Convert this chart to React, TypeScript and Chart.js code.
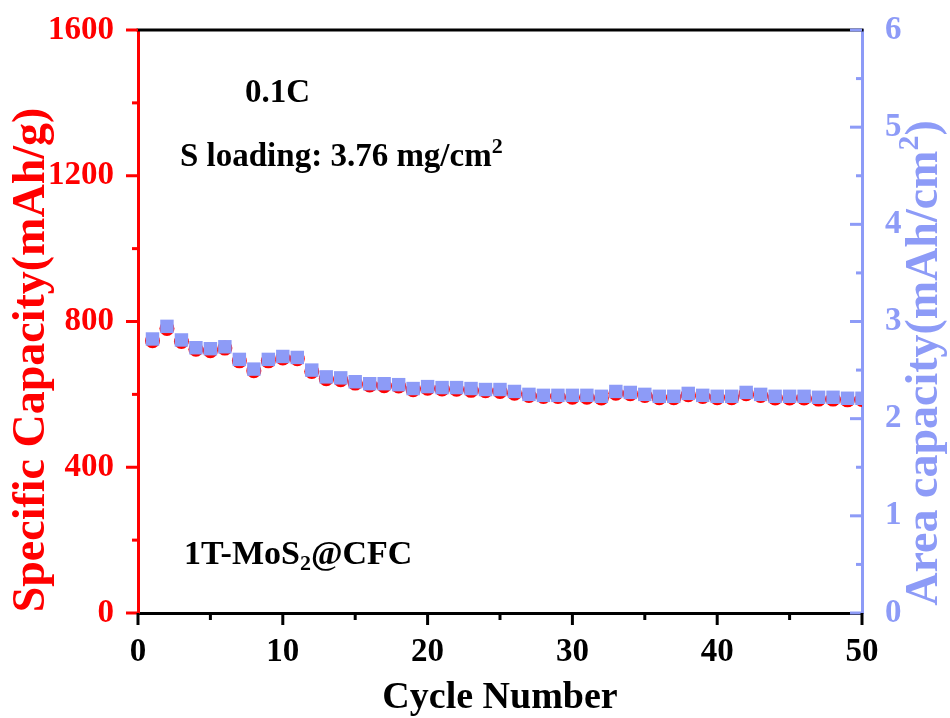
import React, { useEffect, useRef } from 'react';
import { Chart, registerables } from 'chart.js';

Chart.register(...registerables);

const cycles = [1, 2, 3, 4, 5, 6, 7, 8, 9, 10, 11, 12, 13, 14, 15, 16, 17, 18, 19, 20, 21, 22, 23, 24, 25, 26, 27, 28, 29, 30, 31, 32, 33, 34, 35, 36, 37, 38, 39, 40, 41, 42, 43, 44, 45, 46, 47, 48, 49, 50];
const specificCapacity = [747, 781, 745, 724, 720, 727, 692, 665, 692, 700, 698, 663, 643, 640, 631, 626, 624, 623, 613, 617, 615, 614, 611, 610, 608, 603, 597, 594, 594, 592, 592, 590, 603, 602, 597, 591, 591, 599, 594, 591, 591, 602, 597, 590, 590, 590, 587, 587, 585, 586];
const areaCapacity = [2.82, 2.95, 2.81, 2.73, 2.72, 2.74, 2.61, 2.51, 2.61, 2.64, 2.63, 2.5, 2.43, 2.42, 2.38, 2.36, 2.36, 2.35, 2.31, 2.33, 2.32, 2.32, 2.31, 2.3, 2.3, 2.28, 2.25, 2.24, 2.24, 2.24, 2.24, 2.23, 2.28, 2.27, 2.25, 2.23, 2.23, 2.26, 2.24, 2.23, 2.23, 2.27, 2.25, 2.23, 2.23, 2.23, 2.22, 2.22, 2.21, 2.21];
const specificTicks = [0, 400, 800, 1200, 1600];
const areaTicks = [0, 1, 2, 3, 4, 5, 6];
const cycleTicks = [0, 10, 20, 30, 40, 50];

const RED = '#ff0000';
const BLUE = '#8d9bf7';
const FONT = '"Liberation Serif", "Times New Roman", serif';

type Part = { text: string; size: number; dy?: number };

function richWidth(ctx: CanvasRenderingContext2D, parts: Part[]) {
  let w = 0;
  for (const p of parts) {
    ctx.font = `bold ${p.size}px ${FONT}`;
    w += ctx.measureText(p.text).width;
  }
  return w;
}

function drawRich(ctx: CanvasRenderingContext2D, parts: Part[], x: number, y: number) {
  let cx = x;
  for (const p of parts) {
    ctx.font = `bold ${p.size}px ${FONT}`;
    ctx.fillText(p.text, cx, y + (p.dy || 0));
    cx += ctx.measureText(p.text).width;
  }
}

function withMinor(ticks: number[]) {
  const out: { v: number; major: boolean }[] = [];
  for (let i = 0; i < ticks.length; i++) {
    out.push({ v: ticks[i], major: true });
    if (i < ticks.length - 1) out.push({ v: (ticks[i] + ticks[i + 1]) / 2, major: false });
  }
  return out;
}

const decorPlugin = {
  id: 'decor',
  afterDraw(chart: any) {
    const ctx: CanvasRenderingContext2D = chart.ctx;
    const { left, right, top, bottom } = chart.chartArea;
    const xs = chart.scales.x;
    const yl = chart.scales.y;
    const yr = chart.scales.y1;
    ctx.save();
    ctx.lineCap = 'butt';
    ctx.strokeStyle = '#000';
    ctx.lineWidth = 3;
    ctx.beginPath();
    ctx.moveTo(left - 1.5, top);
    ctx.lineTo(right + 1.5, top);
    ctx.stroke();
    ctx.strokeStyle = RED;
    for (const t of withMinor(specificTicks)) {
      const p = yl.getPixelForValue(t.v);
      const len = t.major ? 12 : 6;
      ctx.beginPath();
      ctx.moveTo(left - len, p);
      ctx.lineTo(left, p);
      ctx.stroke();
    }
    ctx.strokeStyle = BLUE;
    for (const t of withMinor(areaTicks)) {
      const p = yr.getPixelForValue(t.v);
      const len = t.major ? 12 : 6;
      ctx.beginPath();
      ctx.moveTo(right - len, p);
      ctx.lineTo(right, p);
      ctx.stroke();
    }
    ctx.strokeStyle = '#000';
    for (const t of withMinor(cycleTicks)) {
      const p = xs.getPixelForValue(t.v);
      const len = t.major ? 12 : 7;
      ctx.beginPath();
      ctx.moveTo(p, bottom);
      ctx.lineTo(p, bottom + len);
      ctx.stroke();
    }
    ctx.fillStyle = '#000';
    ctx.textAlign = 'left';
    ctx.textBaseline = 'alphabetic';
    drawRich(ctx, [{ text: '0.1C', size: 33 }], 245, 102);
    drawRich(ctx, [{ text: 'S loading: 3.76 mg/cm', size: 33 }, { text: '2', size: 22, dy: -13 }], 180, 166);
    drawRich(ctx, [{ text: '1T-MoS', size: 34 }, { text: '2', size: 22, dy: 6 }, { text: '@CFC', size: 34 }], 184, 564);
    ctx.textAlign = 'center';
    ctx.font = `bold 38px ${FONT}`;
    ctx.fillText('Cycle Number', (left + right) / 2, 708);
    ctx.textAlign = 'left';
    ctx.fillStyle = RED;
    const lParts: Part[] = [{ text: 'Specific Capacity(mAh/g)', size: 46 }];
    ctx.save();
    ctx.translate(44, 360);
    ctx.rotate(-Math.PI / 2);
    drawRich(ctx, lParts, -richWidth(ctx, lParts) / 2, 0);
    ctx.restore();
    ctx.fillStyle = BLUE;
    const rParts: Part[] = [
      { text: 'Area capacity(mAh/cm', size: 46 },
      { text: '2', size: 30, dy: -19 },
      { text: ')', size: 46 },
    ];
    ctx.save();
    ctx.translate(937, 363);
    ctx.rotate(-Math.PI / 2);
    drawRich(ctx, rParts, -richWidth(ctx, rParts) / 2, 0);
    ctx.restore();
    ctx.restore();
  },
};

export default function App() {
  const ref = useRef<HTMLCanvasElement>(null);
  useEffect(() => {
    if (!ref.current) return;
    const tickFont = { family: FONT, size: 33, weight: 'bold' as const };
    const fmt = (v: any) => String(v);
    const noPadY = (w: number) => (s: any) => { s.width = w; s.paddingTop = 0; s.paddingBottom = 0; };
    const chart = new Chart(ref.current, {
      type: 'scatter',
      data: {
        datasets: [
          {
            label: 'Area capacity',
            data: cycles.map((c, i) => ({ x: c, y: areaCapacity[i] })),
            yAxisID: 'y1',
            pointStyle: 'rect',
            pointRadius: 9.5,
            pointHoverRadius: 9.5,
            backgroundColor: BLUE,
            borderColor: BLUE,
            borderWidth: 0,
            showLine: false,
            clip: 0,
          },
          {
            label: 'Specific capacity',
            data: cycles.map((c, i) => ({ x: c, y: specificCapacity[i] })),
            yAxisID: 'y',
            pointStyle: 'circle',
            pointRadius: 7.5,
            pointHoverRadius: 7.5,
            backgroundColor: RED,
            borderColor: RED,
            borderWidth: 0,
            showLine: false,
            clip: 0,
          },
        ],
      },
      options: {
        responsive: false,
        animation: false,
        layout: { padding: { top: 30, left: 0, right: 0, bottom: 0 } },
        plugins: { legend: { display: false }, tooltip: { enabled: false } },
        scales: {
          x: {
            type: 'linear',
            min: 0,
            max: 50,
            ticks: { stepSize: 10, color: '#000', font: tickFont, padding: 20, maxRotation: 0, callback: fmt },
            grid: { display: false, drawTicks: false, tickLength: 0 },
            border: { display: true, color: '#000', width: 3 },
            afterFit: (s: any) => { s.height = 105; s.paddingLeft = 0; s.paddingRight = 0; },
          },
          y: {
            type: 'linear',
            position: 'left',
            min: 0,
            max: 1600,
            ticks: { stepSize: 400, color: RED, font: tickFont, padding: 24, callback: fmt },
            grid: { display: false, drawTicks: false, tickLength: 0 },
            border: { display: true, color: RED, width: 3 },
            afterFit: noPadY(138),
          },
          y1: {
            type: 'linear',
            position: 'right',
            min: 0,
            max: 6,
            ticks: { stepSize: 1, color: BLUE, font: tickFont, padding: 23, callback: fmt },
            grid: { display: false, drawTicks: false, tickLength: 0 },
            border: { display: true, color: BLUE, width: 3 },
            afterFit: noPadY(88),
          },
        },
      },
      plugins: [decorPlugin],
    });
    return () => chart.destroy();
  }, []);
  return (
    <div style={{ position: 'absolute', left: 0, top: 0, width: 950, height: 718, background: '#fff' }}>
      <canvas ref={ref} width={950} height={718} style={{ display: 'block' }} />
    </div>
  );
}
